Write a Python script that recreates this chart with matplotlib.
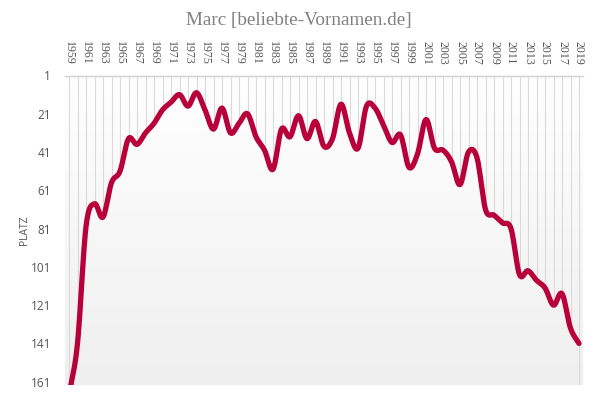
import numpy as np
import matplotlib
matplotlib.use("Agg")
import matplotlib.pyplot as plt
from matplotlib.patches import Polygon

years = list(range(1959, 2020))
ranks = [168, 141, 80, 68, 75, 57, 51, 34, 37, 31, 26,
         19, 15, 11, 17, 10, 19, 29, 18, 31, 26,
         21, 33, 40, 50, 29, 33, 22, 34, 25, 38,
         34, 16, 31, 39, 17, 18, 27, 36, 32, 49,
         42, 24, 39, 40, 46, 58, 41, 44, 71, 74,
         78, 81, 105, 103, 108, 112, 121, 115, 133, 141]
ytick_vals = [1, 21, 41, 61, 81, 101, 121, 141, 161]
xtick_labels = [str(y) for y in range(1959, 2020, 2)]
title = "Marc [beliebte-Vornamen.de]"
ylabel = "PLATZ"


def catmull_rom(x, y, n=12):
    x = np.asarray(x, float)
    y = np.asarray(y, float)
    px = np.concatenate([[2 * x[0] - x[1]], x, [2 * x[-1] - x[-2]]])
    py = np.concatenate([[2 * y[0] - y[1]], y, [2 * y[-1] - y[-2]]])
    xs, ys = [], []
    t = np.linspace(0, 1, n, endpoint=False)
    for i in range(1, len(px) - 2):
        for arr, out in ((px, xs), (py, ys)):
            p0, p1, p2, p3 = arr[i - 1], arr[i], arr[i + 1], arr[i + 2]
            out.extend(0.5 * ((2 * p1) + (-p0 + p2) * t
                              + (2 * p0 - 5 * p1 + 4 * p2 - p3) * t ** 2
                              + (-p0 + 3 * p1 - 3 * p2 + p3) * t ** 3))
    xs.append(x[-1])
    ys.append(y[-1])
    return np.array(xs), np.array(ys)


W, H = 598, 400
fig = plt.figure(figsize=(W / 100, H / 100), dpi=100)
left, right, top, bottom = 65, 583, 75.5, 385
ax = fig.add_axes([left / W, (H - bottom) / H, (right - left) / W, (bottom - top) / H])

ymax = 1 + (bottom - top) / 1.914
xlo = 1959 - 4 / 8.5
xhi = 2019 + 4 / 8.5
ax.set_xlim(xlo, xhi)
ax.set_ylim(ymax, 1)

# background gradient
grad = np.linspace(0, 1, 256).reshape(-1, 1)
top_c = np.array([1.0, 1.0, 1.0])
bot_c = np.array([0.937, 0.937, 0.937])
img = top_c + (bot_c - top_c) * grad[:, :, None] * np.ones((1, 1, 3))
ax.imshow(img, extent=[xlo, xhi, ymax, 1], aspect="auto", zorder=0, interpolation="bilinear")

# vertical gridlines
for yr in years:
    ax.axvline(yr, color="#dadada", lw=0.8, zorder=1)

sx, sy = catmull_rom(years, ranks)

# area under curve covers gridlines
poly_pts = np.column_stack([np.concatenate([[sx[0]], sx, [sx[-1]]]),
                            np.concatenate([[ymax + 20], sy, [ymax + 20]])])
poly = Polygon(poly_pts, closed=True, transform=ax.transData, facecolor="none", edgecolor="none")
ax.add_patch(poly)
im2 = ax.imshow(img, extent=[xlo, xhi, ymax, 1], aspect="auto", zorder=2, interpolation="bilinear")
im2.set_clip_path(poly)

ax.plot(sx, sy, color="#b8003a", lw=3.8, solid_capstyle="round", solid_joinstyle="round", zorder=3)

for s in ["left", "right", "bottom"]:
    ax.spines[s].set_visible(False)
ax.spines["top"].set_color("#d0d0d0")
ax.spines["top"].set_linewidth(1.0)

ax.xaxis.tick_top()
ax.set_xticks(list(range(1959, 2020, 2)))
ax.set_xticklabels(xtick_labels, rotation=270, fontsize=8.6, color="#555555",
                   family="Liberation Serif", va="bottom", ha="center")
ax.tick_params(axis="x", length=0, pad=8)
ax.set_yticks(ytick_vals)
ax.set_yticklabels([str(v) for v in ytick_vals], fontsize=8.5, color="#555555", family="Open Sans")
ax.tick_params(axis="y", length=0, pad=10)

fig.text(25 / W, 1 - 230 / H, ylabel, rotation=90, fontsize=7.5, color="#555555",
         family="Open Sans", ha="center", va="center")
fig.text(299 / W, 1 - 21 / H, title, fontsize=13.8, color="#808080",
         family="Liberation Serif", ha="center", va="center")

fig.savefig("out.png", dpi=100)
